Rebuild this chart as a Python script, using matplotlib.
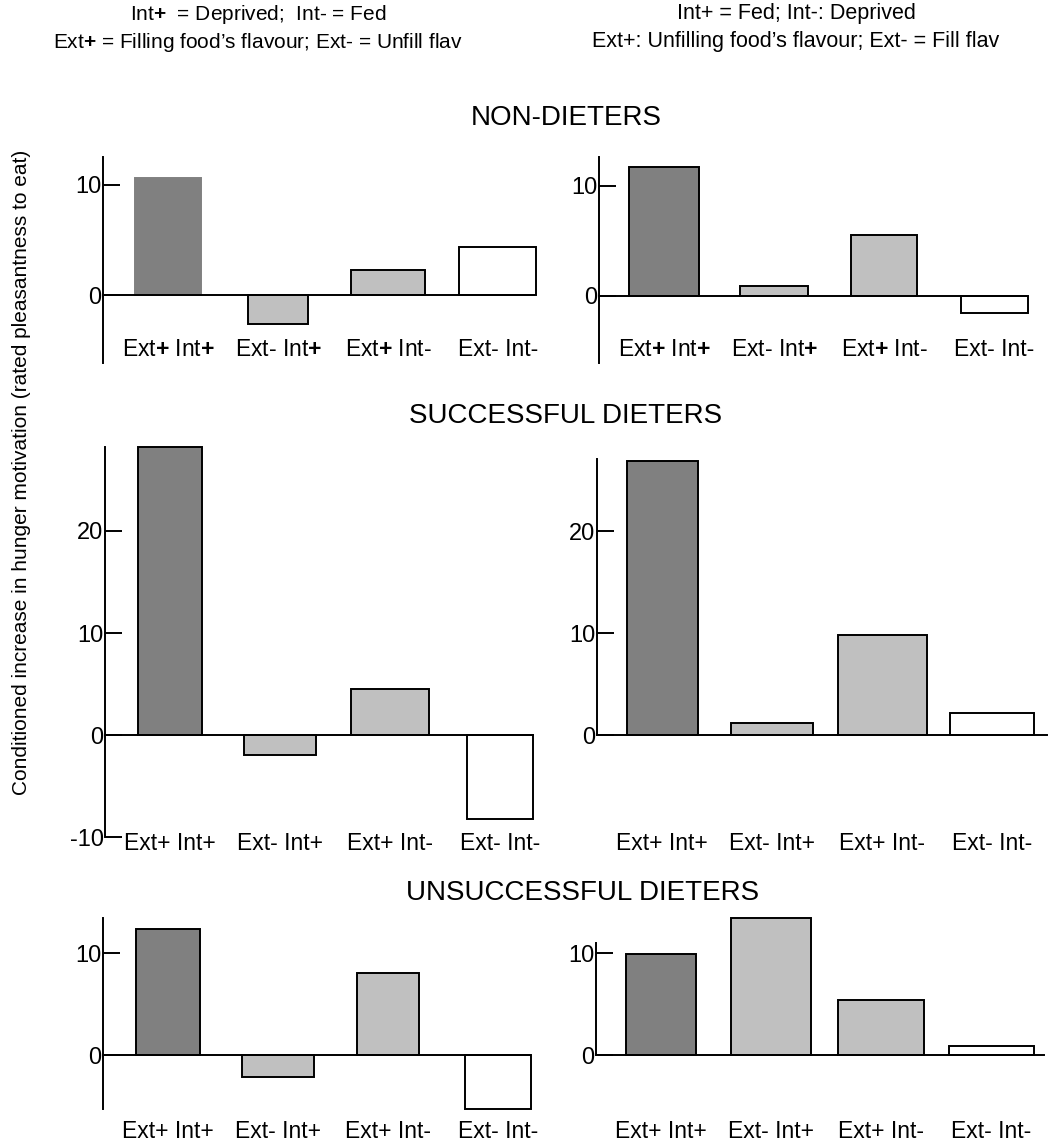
import numpy as np
import matplotlib
matplotlib.use("Agg")
import matplotlib.pyplot as plt

plt.rcParams['font.family'] = ['Liberation Sans', 'DejaVu Sans']
plt.rcParams['mathtext.fontset'] = 'custom'
plt.rcParams['mathtext.rm'] = 'Liberation Sans'
plt.rcParams['mathtext.bf'] = 'Liberation Sans:bold'
plt.rcParams['axes.unicode_minus'] = False

# bar values, one list per panel
non_left = [10.6, -2.6, 2.3, 4.4]
non_right = [11.7, 0.9, 5.5, -1.5]
succ_left = [28.2, -2.0, 4.5, -8.2]
succ_right = [26.9, 1.2, 9.8, 2.2]
unsucc_left = [12.4, -2.2, 8.0, -5.3]
unsucc_right = [9.9, 13.4, 5.4, 0.9]

labels_bold = [r'Ext$\mathbf{+}$ Int$\mathbf{+}$', r'Ext- Int$\mathbf{+}$',
               r'Ext$\mathbf{+}$ Int-', 'Ext- Int-']
labels_plain = ['Ext+ Int+', 'Ext- Int+', 'Ext+ Int-', 'Ext- Int-']

yticks_non = [0, 10]
yticks_succ_left = [-10, 0, 10, 20]
yticks_succ_right = [0, 10, 20]
yticks_unsucc = [0, 10]

fills = ['#808080', '#c0c0c0', '#c0c0c0', '#ffffff']

W, H = 1056, 1146
fig = plt.figure(figsize=(W / 100, H / 100), dpi=100)

# panel layout in pixels: axis x, baseline end, top, bottom, zero y, px per unit, label y
panels = [
    (non_left, yticks_non, labels_bold, (103, 534, 157, 363, 295, 11.0, 350), [66, 60, 75, 77], True),
    (non_right, yticks_non, labels_bold, (599, 1026, 157, 363, 296, 11.0, 350), [70, 68, 66, 67], False),
    (succ_left, yticks_succ_left, labels_plain, (105, 533, 447, 837, 735, 10.2, 843), [64, 72, 78, 66], False),
    (succ_right, yticks_succ_right, labels_plain, (597, 1047, 459, 735, 735, 10.2, 843), [71, 82, 89, 84], False),
    (unsucc_left, yticks_unsucc, labels_plain, (103, 530, 918, 1109, 1055, 10.2, 1131), [64, 72, 62, 66], False),
    (unsucc_right, yticks_unsucc, labels_plain, (596, 1044, 943, 1055, 1055, 10.2, 1131), [70, 80, 86, 85], False),
]

slot = 110.0   # px between bar centres
first = 65.0   # px from axis to first bar centre

for vals, yt, labs, (x0, x1, top, bot, zero, ppu, laby), widths, first_noedge in panels:
    ax = fig.add_axes([x0 / W, 1 - bot / H, (x1 - x0) / W, (bot - top) / H])
    ax.set_ylim(-(bot - zero) / ppu, (zero - top) / ppu)
    ax.set_xlim(-first / slot, (x1 - x0 - first) / slot)
    pos = np.arange(len(vals))
    bars = ax.bar(pos, vals, width=[w / slot for w in widths], color=fills,
                  edgecolor='black', linewidth=1.4, zorder=3, clip_on=False)
    if first_noedge:
        bars[0].set_edgecolor('#808080')
    ax.axhline(0, color='black', lw=1.4, zorder=4, clip_on=False)
    for s in ['top', 'right', 'bottom']:
        ax.spines[s].set_visible(False)
    ax.spines['left'].set_linewidth(1.4)
    ax.set_xticks([])
    ax.set_yticks(yt)
    ax.tick_params(axis='y', direction='in', length=12, width=1.4,
                   labelsize=17, pad=1)
    ax.patch.set_alpha(0)
    for p, lab in zip(pos, labs):
        ax.text(p, 1 - (laby - top) / (bot - top), lab, ha='center', va='center',
                fontsize=16.5, transform=ax.get_xaxis_transform(), clip_on=False)

# headers
fig.text(258 / W, 1 - 14 / H, r'Int$\mathbf{+}$  = Deprived;  Int- = Fed',
         ha='center', va='center', fontsize=15)
fig.text(258 / W, 1 - 42 / H, r"Ext$\mathbf{+}$ = Filling food’s flavour; Ext- = Unfill flav",
         ha='center', va='center', fontsize=15)
fig.text(796 / W, 1 - 14 / H, 'Int+ = Fed; Int-: Deprived',
         ha='center', va='center', fontsize=15.5)
fig.text(796 / W, 1 - 42 / H, "Ext+: Unfilling food’s flavour; Ext- = Fill flav",
         ha='center', va='center', fontsize=15.5)

# section titles
fig.text(566 / W, 1 - 118 / H, 'NON-DIETERS', ha='center', va='center', fontsize=20)
fig.text(566 / W, 1 - 416 / H, 'SUCCESSFUL DIETERS', ha='center', va='center', fontsize=20)
fig.text(583 / W, 1 - 893 / H, 'UNSUCCESSFUL DIETERS', ha='center', va='center', fontsize=20)

fig.text(22 / W, 1 - 472 / H,
         'Conditioned increase in hunger motivation (rated pleasantness to eat)',
         rotation=90, ha='center', va='center', fontsize=15)

fig.savefig('out.png', dpi=100)
